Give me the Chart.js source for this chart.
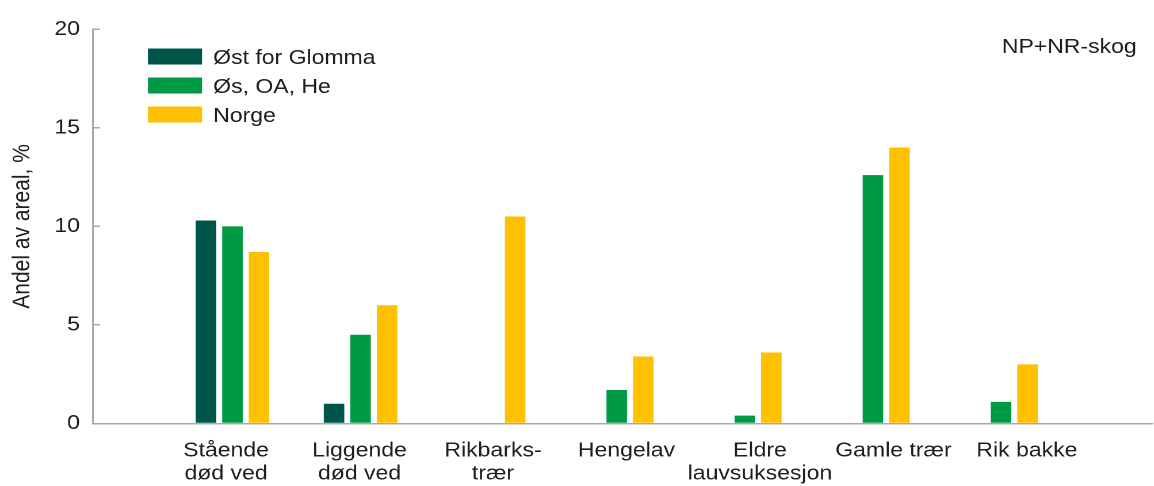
<!DOCTYPE html>
<html>
<head>
<meta charset="utf-8">
<style>
  html, body { margin: 0; padding: 0; background: #fff; overflow: hidden; }
  /* the source picture is stretched sideways by ~1.15, so draw narrow and stretch */
  #wrap { width: 1003px; height: 486px; transform: scaleX(1.1505); transform-origin: 0 0; }
</style>
<script src="https://cdn.jsdelivr.net/npm/chart.js@4.4.1/dist/chart.umd.min.js"></script>
</head>
<body>
<div id="wrap"><canvas id="chart" width="1003" height="486"></canvas></div>
<script>
const categories = [
  ["Stående", "død ved"],
  ["Liggende", "død ved"],
  ["Rikbarks-", "trær"],
  "Hengelav",
  ["Eldre", "lauvsuksesjon"],
  "Gamle trær",
  "Rik bakke",
]
const seriesNames = ["Øst for Glomma", "Øs, OA, He", "Norge"]
const ostForGlomma = [10.3, 1.0, null, null, null, null, null]
const osOaHe = [10.0, 4.5, null, 1.7, 0.4, 12.6, 1.1]
const norge = [8.7, 6.0, 10.5, 3.4, 3.6, 14.0, 3.0]
const yTicks = [0, 5, 10, 15, 20]
const note = "NP+NR-skog"

const colors = ["#00554a", "#009a44", "#ffc000"]
const textColor = "#1e1e1e"
const axisColor = "#a8a8a8"
const font = '"Liberation Sans", Arial, sans-serif'

// category names sit on a slightly wider pitch than the bar groups
const labelStep = 1.042
const labelShift = -0.05

// legend boxes + corner note, placed inside the plot area
const boxLegend = {
  id: "boxLegend",
  afterDraw(chart) {
    const { ctx, chartArea } = chart
    ctx.save()
    ctx.font = "20px " + font
    ctx.textBaseline = "alphabetic"
    chart.data.datasets.forEach((ds, i) => {
      const cy = 56.5 + i * 29
      ctx.fillStyle = ds.backgroundColor
      ctx.fillRect(chartArea.left + 47.8, cy - 8, 47, 16)
      ctx.fillStyle = textColor
      ctx.fillText(ds.label, chartArea.left + 104.5, cy + 7.3)
    })
    ctx.textAlign = "right"
    ctx.fillText(note, chartArea.right - 14, 53)
    ctx.restore()
  },
}

new Chart(document.getElementById("chart"), {
  type: "bar",
  data: {
    labels: categories.map((_, i) => i),
    datasets: [ostForGlomma, osOaHe, norge].map((values, i) => ({
      label: seriesNames[i],
      data: values,
      backgroundColor: colors[i],
      borderWidth: 0,
      categoryPercentage: 0.621,
      barPercentage: 0.774,
    })),
  },
  options: {
    responsive: false,
    devicePixelRatio: 2,
    animation: false,
    layout: { padding: { top: 25, right: 1, left: 0, bottom: 0 } },
    plugins: { legend: { display: false }, tooltip: { enabled: false } },
    scales: {
      x: {
        type: "linear",
        offset: false,
        bounds: "data",
        min: -1.089,
        max: 7.185,
        afterBuildTicks: s => { s.ticks = categories.map((_, i) => ({ value: i * labelStep + labelShift })) },
        afterFit: s => { s.height = 62.5 },
        grid: { display: false },
        border: { color: axisColor, width: 1.5 },
        ticks: {
          autoSkip: false,
          maxRotation: 0,
          padding: 8,
          color: textColor,
          font: { family: font, size: 20, lineHeight: "23px" },
          callback: (v, i) => categories[i],
        },
      },
      y: {
        min: 0,
        max: 20,
        afterBuildTicks: s => { s.ticks = yTicks.map(v => ({ value: v })) },
        afterFit: s => { s.width = 80.8 },
        grid: { drawOnChartArea: false, tickLength: -6, color: axisColor, lineWidth: 1.5 },
        border: { color: axisColor, width: 1.5 },
        ticks: { padding: 17.3, color: textColor, font: { family: font, size: 20 } },
        title: {
          display: true,
          text: "Andel av areal, %",
          color: textColor,
          font: { family: font, size: 21 },
          padding: { top: 7, bottom: 0 },
        },
      },
    },
  },
  plugins: [boxLegend],
})
</script>
</body>
</html>
